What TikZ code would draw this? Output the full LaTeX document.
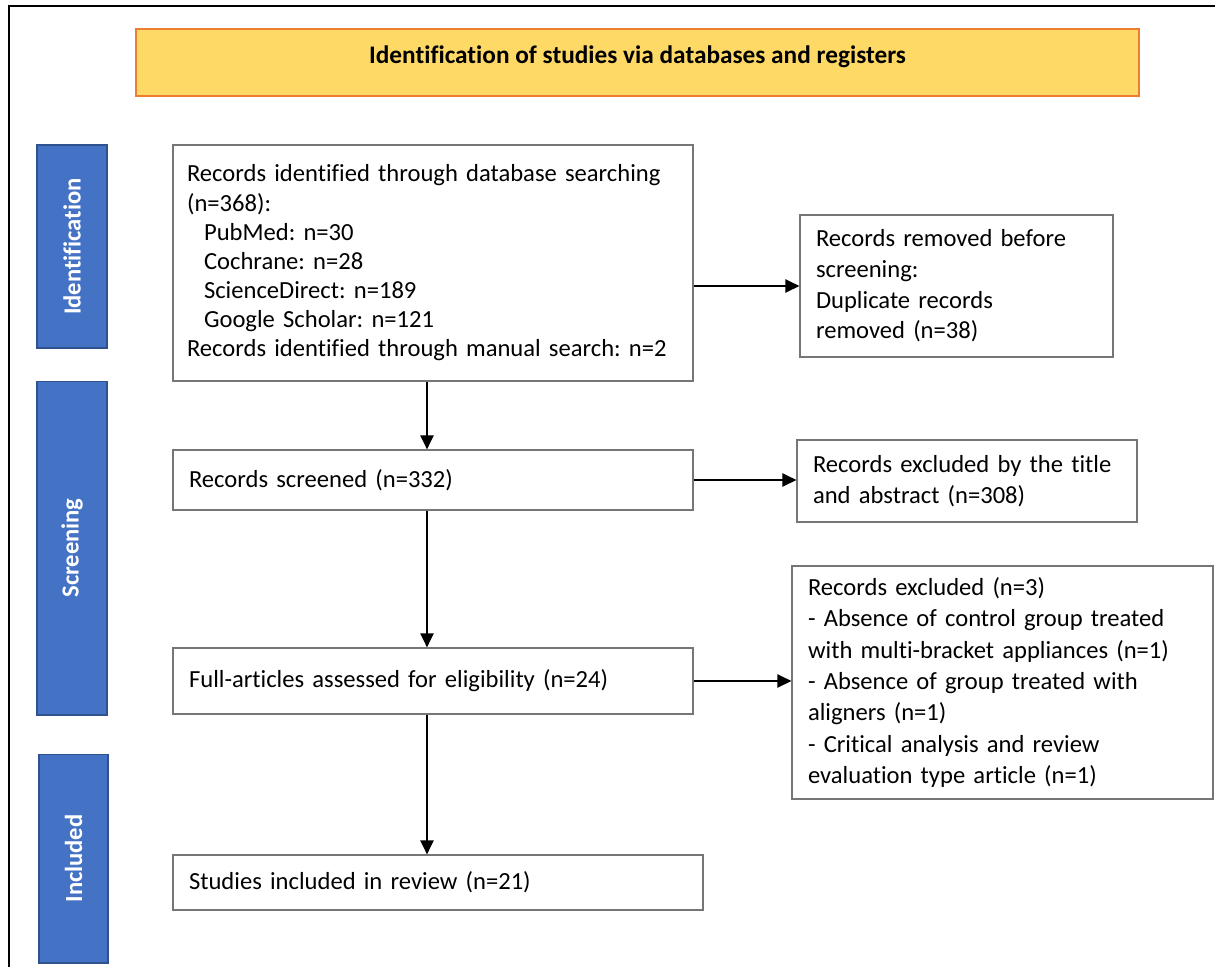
\documentclass[tikz,border=0pt]{standalone}
\usepackage{fontspec}
\setmainfont{Carlito}[Ligatures=NoCommon]
\usetikzlibrary{arrows.meta, calc, positioning}
\definecolor{hdrfill}{HTML}{FFD966}
\definecolor{hdrline}{HTML}{ED7D31}
\definecolor{barfill}{HTML}{4472C4}
\definecolor{barline}{HTML}{2F528F}
\definecolor{boxline}{HTML}{767676}
\newcommand{\ind}{\hspace*{0.34cm}}
\frenchspacing

\begin{document}
\begin{tikzpicture}[x=0.02cm, y=-0.02cm, >={Triangle[length=8pt,width=7.5pt]},
    flowbox/.style={draw=boxline, line width=0.7pt, fill=white, align=left,
        inner xsep=0.32cm, inner ysep=0pt, font=\fontsize{14}{17.5}\selectfont},
    phasebar/.style={draw=barline, line width=0.6pt, fill=barfill, text=white,
        font=\bfseries\fontsize{14}{16}\selectfont, rotate=90, inner sep=0pt},
    flowarrow/.style={->, line width=1.2pt}]
    \useasboundingbox (0,0) rectangle (1215,967);
    % frame
    \draw[line width=0.7pt] (9,967) -- (9,6) -- (1215,6);
    \node[draw=hdrline, line width=1pt, fill=hdrfill, minimum width=20.06cm,
        minimum height=1.34cm, text height=10pt, text depth=9pt,
        font=\bfseries\fontsize{14.4}{16}\selectfont]
        (hdr) at (637.5,62.5) {Identification of studies via databases and registers};
    % phases
    \node[phasebar, minimum width=4.06cm, minimum height=1.4cm] (idbar) at (72,246.5) {Identification};
    \node[phasebar, minimum width=6.68cm, minimum height=1.4cm] (scrbar) at (72,548) {Screening};
    \node[phasebar, minimum width=4.18cm, minimum height=1.38cm] (incbar) at (73.5,858.5) {Included};
    % flow
    \node[flowbox, inner xsep=0.28cm, text width=9.84cm, minimum height=4.72cm,
        font=\fontsize{14}{16.6}\selectfont] (rec) at (433,263)
        {\mbox{Records identified through database searching}\\
         (n=368):\\
         \ind PubMed: n=30\\
         \ind Cochrane: n=28\\
         \ind ScienceDirect: n=189\\
         \ind Google Scholar: n=121\\
         \mbox{Records identified through manual search: n=2}};
    \node[flowbox, text width=5.62cm, minimum height=2.84cm] (removed) at (956.5,286)
        {Records removed before\\ screening:\\ Duplicate records\\ removed (n=38)};
    \node[flowbox, text width=9.76cm, minimum height=1.2cm] (screened) at (433,480)
        {Records screened (n=332)};
    \node[flowbox, text width=6.16cm, minimum height=1.64cm] (extitle) at (967,481)
        {Records excluded by the title\\ and abstract (n=308)};
    \node[flowbox, text width=9.76cm, minimum height=1.32cm] (full) at (433,681)
        {Full-articles assessed for eligibility (n=24)};
    \node[flowbox, text width=7.78cm, minimum height=4.66cm,
        font=\fontsize{14}{17.9}\selectfont] (excl) at (1002.5,682.5)
        {Records excluded (n=3)\\
         - Absence of control group treated\\
         with multi-bracket appliances (n=1)\\
         - Absence of group treated with\\
         aligners (n=1)\\
         - Critical analysis and review\\
         evaluation type article (n=1)};
    \node[flowbox, text width=9.96cm, minimum height=1.1cm] (incl) at (438,882.5)
        {Studies included in review (n=21)};
    % arrows
    \coordinate (spine) at (427,0);
    \draw[flowarrow] (rec.south -| spine) -- (screened.north -| spine);
    \draw[flowarrow] (screened.south -| spine) -- (full.north -| spine);
    \draw[flowarrow] (full.south -| spine) -- (incl.north -| spine);
    \draw[flowarrow] (rec.east |- removed.west) -- (removed.west);
    \draw[flowarrow] (screened.east) -- (screened.east -| extitle.west);
    \draw[flowarrow] (full.east) -- (full.east -| excl.west);
\end{tikzpicture}
\end{document}
